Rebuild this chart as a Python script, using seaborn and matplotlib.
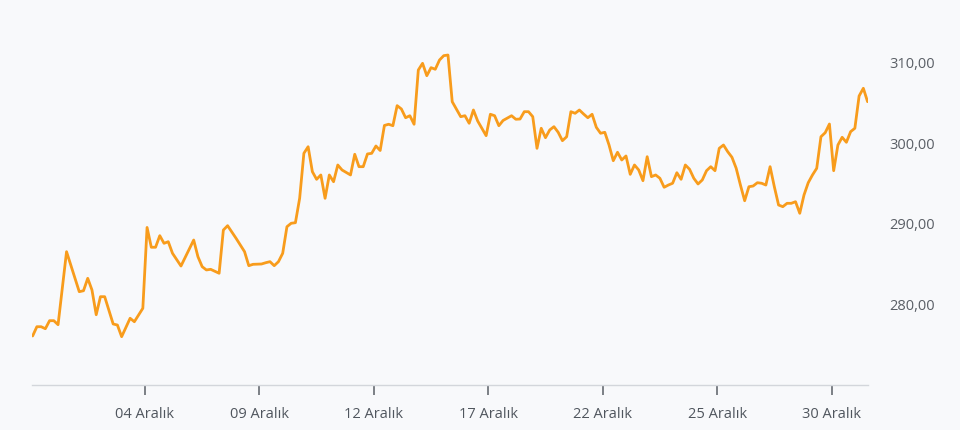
import matplotlib
matplotlib.use("Agg")
import matplotlib.pyplot as plt
import matplotlib.ticker as ticker
import pandas as pd
import seaborn as sns

# bar index (intraday samples) and closing price
idx = [0, 1, 2, 3, 4, 5, 6, 8, 11, 12, 13, 14, 15, 16, 17, 19, 20, 21, 23, 24,
       26, 27, 28, 29, 30, 31, 32, 33, 35, 38, 39, 40, 41, 42, 44, 45, 46, 48, 50, 51,
       52, 54, 55, 56, 57, 58, 59, 60, 61, 62, 63, 64, 65, 66, 67, 68, 69, 70, 71, 72,
       73, 75, 76, 77, 78, 79, 80, 81, 82, 83, 84, 85, 86, 87, 88, 89, 90, 91, 92, 93,
       94, 95, 96, 97, 98, 99, 101, 102, 103, 104, 105, 107, 108, 109, 110, 111, 113, 114, 115, 116,
       117, 118, 119, 120, 121, 122, 123, 124, 125, 126, 127, 128, 129, 130, 131, 132, 133, 134, 135, 136,
       137, 138, 139, 140, 141, 142, 143, 144, 145, 146, 147, 148, 149, 150, 151, 152, 153, 154, 155, 156,
       157, 158, 159, 160, 161, 162, 163, 164, 165, 166, 167, 168, 169, 170, 171, 172, 173, 174, 175, 176,
       177, 178, 179, 180, 181, 182, 183, 184, 185, 186, 187, 188, 189, 190, 191, 192, 193, 194, 195, 196,
       197]
price = [276.09, 277.24, 277.24, 276.99, 277.99, 277.99, 277.49, 286.56, 281.59, 281.71,
         283.25, 281.80, 278.73, 280.97, 280.97, 277.58, 277.45, 276.00, 278.29, 277.86,
         279.53, 289.57, 287.11, 287.11, 288.55, 287.60, 287.80, 286.36, 284.78, 288.01,
         285.94, 284.70, 284.29, 284.37, 283.88, 289.25, 289.79, 288.22, 286.56, 284.82,
         284.99, 285.03, 285.19, 285.32, 284.82, 285.32, 286.36, 289.66, 290.09, 290.16,
         293.19, 298.78, 299.60, 296.50, 295.55, 296.09, 293.19, 296.09, 295.25, 297.33,
         296.71, 296.09, 298.66, 297.12, 297.12, 298.70, 298.78, 299.69, 299.13, 302.24,
         302.39, 302.21, 304.70, 304.29, 303.20, 303.45, 302.39, 309.13, 309.96, 308.42,
         309.42, 309.22, 310.37, 310.91, 310.99, 305.19, 303.33, 303.45, 302.51, 304.16,
         302.80, 300.97, 303.63, 303.45, 302.21, 302.86, 303.45, 303.01, 303.04, 303.95,
         303.95, 303.33, 299.40, 301.89, 300.72, 301.68, 302.09, 301.39, 300.35, 300.84,
         303.95, 303.75, 304.16, 303.66, 303.20, 303.63, 302.01, 301.27, 301.39, 299.81,
         297.86, 298.91, 297.95, 298.45, 296.17, 297.33, 296.71, 295.38, 298.36, 295.88,
         296.09, 295.68, 294.56, 294.84, 295.06, 296.37, 295.55, 297.33, 296.80, 295.68,
         294.97, 295.47, 296.62, 297.12, 296.62, 299.40, 299.81, 298.98, 298.29, 296.92,
         294.84, 292.89, 294.63, 294.72, 295.13, 295.06, 294.84, 297.12, 294.63, 292.36,
         292.15, 292.57, 292.57, 292.77, 291.33, 293.60, 295.13, 296.09, 296.92, 300.84,
         301.34, 302.42, 296.62, 299.81, 300.77, 300.15, 301.47, 301.89, 305.90, 306.86,
         305.19]

tick_pos = [26.5, 53.5, 80.5, 107.5, 134.5, 161.5, 188.5]
tick_labels = ["04 Aralık", "09 Aralık", "12 Aralık", "17 Aralık",
               "22 Aralık", "25 Aralık", "30 Aralık"]
y_ticks = [280, 290, 300, 310]

bg = "#f8f9fb"
sns.set_theme(style="white")
sns.set(
    style="white",
    rc={
        "axes.facecolor": bg,
        "figure.facecolor": bg,
        "axes.edgecolor": "#d3d6db",
        "xtick.color": "#555b63",
        "ytick.color": "#5f646b",
        "text.color": "#5f646b",
    },
)
plt.rcParams["font.family"] = ["Open Sans", "DejaVu Sans"]

df = pd.DataFrame({"idx": idx, "price": price})

fig = plt.figure(figsize=(9.6, 4.3), dpi=100)
ax = fig.add_axes([32 / 960, 1 - 385 / 430, 836 / 960, 365 / 430])

sns.lineplot(data=df, x="idx", y="price", ax=ax, color="#f89c1c", linewidth=2.0)

ax.set_xlim(-0.15, 197.1)
ax.set_ylim(270.0, 315.34)

for side in ["top", "right", "left"]:
    ax.spines[side].set_visible(False)
ax.spines["bottom"].set_linewidth(1.0)

ax.set_xticks(tick_pos)
ax.set_xticklabels(tick_labels, fontsize=10.5, color="#50565e")
ax.tick_params(axis="x", direction="out", length=7, width=1.1,
               color="#5a5f66", pad=9, bottom=True)

ax.yaxis.tick_right()
ax.set_yticks(y_ticks)
ax.yaxis.set_major_formatter(
    ticker.FuncFormatter(lambda v, pos: f"{v:.2f}".replace(".", ","))
)
ax.tick_params(axis="y", length=0, pad=15, labelsize=10.5, labelcolor="#5a5f66")

ax.set_xlabel("")
ax.set_ylabel("")
ax.grid(False)

fig.savefig("out.png", dpi=100, facecolor=bg)
